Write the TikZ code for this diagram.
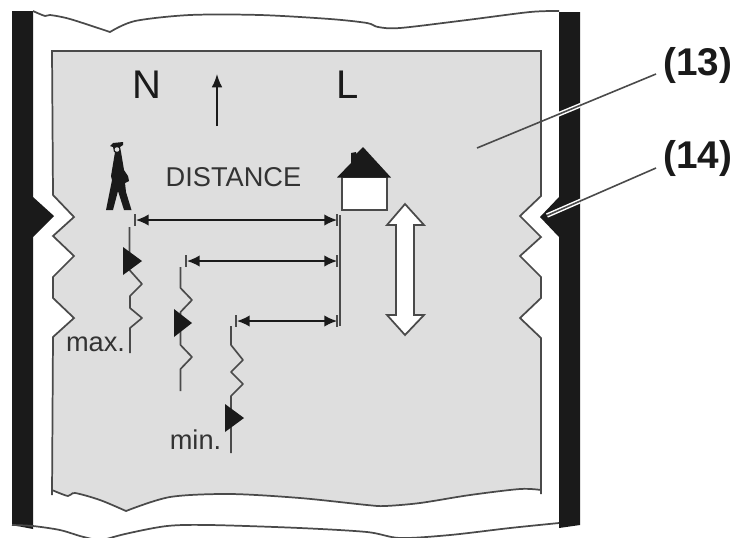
\documentclass[tikz,border=0pt]{standalone}
\usepackage{fontspec}
\setmainfont{Liberation Sans}
\usetikzlibrary{arrows.meta}
\definecolor{ink}{HTML}{1A1A1A}
\definecolor{edge}{HTML}{4A4A4A}
\definecolor{panel}{HTML}{DEDEDE}
\tikzset{
  x=0.75pt,y=-0.75pt,
  outline/.style={draw=edge,line width=1.3pt,line join=miter},
  dim/.style={draw=ink,line width=1.1pt,{Latex[length=9.5pt,width=8.5pt]}-{Latex[length=9.5pt,width=8.5pt]}},
  tick/.style={draw=edge,line width=1.1pt},
  wire/.style={draw=edge,line width=1.25pt,line join=round},
  label/.style={inner sep=0pt,text=ink,font=\fontsize{30pt}{32pt}\selectfont},
  small/.style={inner sep=0pt,text=black!80,font=\fontsize{20.4pt}{22pt}\selectfont},
  callout/.style={inner sep=0pt,text=ink,font=\bfseries\fontsize{29pt}{30pt}\selectfont},
  halo/.style={draw=white,line width=3.4pt},
  leader/.style={draw=edge,line width=1.2pt},
}
\begin{document}
\begin{tikzpicture}
\useasboundingbox (0,0) rectangle (734,537);
% side bars
\fill[ink] (12,11) -- (33,11) -- (33,197) -- (54,216) -- (33,237) -- (33,529) -- (12,525) -- cycle;
\fill[ink] (559,12) -- (580,12) -- (580,525) -- (559,528) -- (559,237) -- (540,217) -- (559,197) -- cycle;
% outer torn edges
\draw[outline] plot[smooth,tension=.5] coordinates {(33,11) (45,16) (50,15) (70,19) (110,32)}
  -- plot[smooth,tension=.5] coordinates {(110,32) (135,21) (190,15) (260,15) (330,19) (367,23) (378,27) (400,28) (467,20) (530,12) (559,11)};
\draw[outline] plot[smooth,tension=.5] coordinates {(12,525) (33,526) (60,530) (80,536) (100,541)}
  -- plot[smooth,tension=.5] coordinates {(100,541) (125,534) (167,526) (210,525) (300,528) (367,532) (400,538) (450,535) (510,528) (559,523)};
% panel
\draw[outline,fill=panel] (52,51) -- (541,51) -- (541,196) -- (520,216) -- (541,237) -- (520,256) -- (541,277) -- (541,298) -- (520,318) -- (541,338) -- (541,494) -- (541,490)
  -- plot[smooth,tension=.5] coordinates {(541,490) (520,489) (470,495) (420,503) (385,506) (367,505) (300,498) (230,494) (170,497) (126,511)}
  -- plot[smooth,tension=.5] coordinates {(126,511) (100,500) (75,493) (68,496) (52,490)}
  -- (52,495) -- (53,337) -- (74,318) -- (53,298) -- (53,277) -- (74,256) -- (53,236) -- (74,217) -- (53,195) -- cycle;
% text
\node[label] (n) at (147,84.5) {N};
\node[label] (l) at (347.5,84.5) {L};
\node[small] (dist) at (233.5,177) {DISTANCE};
\node[small,anchor=base] (mx) at (95.5,351) {max.};
\node[small,anchor=base] (mn) at (195.5,449) {min.};
% north arrow
\coordinate (a0) at (217,126);
\coordinate (a1) at (217,74);
\draw[draw=ink,line width=1.2pt,-{Latex[length=10pt,width=8pt]}] (a0) -- (a1);
% person
\fill[ink] (115,152) -- (121,152) -- (124,170) -- (128,176) -- (129,181) -- (125,183) -- (126,192) -- (131.5,210) -- (124,210) -- (118,191) -- (113,210) -- (106,210) -- (112,180) -- (111,176) -- cycle;
\fill[ink] (110,146) -- (113,143) -- (123,142) -- (123,145) -- (120,147) -- (121,152) -- (114,152) -- (113,147) -- cycle;
\fill[panel] (117,149.5) circle (2.3);
% house
\draw[outline,fill=white,line width=1.5pt] (341.5,177) rectangle (387,210);
\fill[ink] (337,177.5) -- (351,163) -- (351,153) -- (356,152) -- (356,154) -- (363,147) -- (391,177.5) -- cycle;
% double arrow
\draw[outline,fill=white] (405,204) -- (424,225) -- (414,225) -- (414,315) -- (424,315) -- (405,335) -- (387,315) -- (396,315) -- (396,225) -- (387,225) -- cycle;
% dimension lines
\coordinate (d1l) at (136,220); \coordinate (d1r) at (337,220);
\coordinate (d2l) at (187,261); \coordinate (d2r) at (337,261);
\coordinate (d3l) at (237,321); \coordinate (d3r) at (337,321);
\draw[dim] (d1l) -- (d1r);
\draw[dim] (d2l) -- (d2r);
\draw[dim] (d3l) -- (d3r);
\draw[tick] (135,214) -- (135,226);
\draw[tick] (186,255) -- (186,267);
\draw[tick] (236,315) -- (236,327);
\draw[tick] (337,214) -- (337,226);
\draw[tick] (337,255) -- (337,267);
\draw[tick] (337,315) -- (337,327);
\draw[tick] (340,215) -- (340,326);
% springs
\draw[wire] (129.5,227) -- (129.5,270) -- (142,284) -- (130,296) -- (130,308) -- (142,318) -- (130,328) -- (130,353);
\fill[ink] (123,247) -- (142,261) -- (123,275) -- cycle;
\draw[wire] (180.5,267) -- (180.5,288) -- (192,300) -- (180.5,312) -- (180.5,345) -- (192,357) -- (180.5,369) -- (180.5,391);
\fill[ink] (174,309) -- (192,323) -- (174,337) -- cycle;
\draw[wire] (231,326) -- (231,345) -- (243,360) -- (231,372) -- (243,384) -- (231,396) -- (231,453);
\fill[ink] (225,404) -- (244,418) -- (225,432) -- cycle;
% callouts
\node[callout,anchor=west] (c13) at (663,65) {(13)};
\node[callout,anchor=west] (c14) at (663,158) {(14)};
\coordinate (e13) at (477,148);
\coordinate (e14) at (547,215.5);
\coordinate (s13) at (656,74);
\coordinate (s14) at (656,168);
\begin{scope}
\clip (559,0) rectangle (580,537);
\draw[halo] (e13) -- (s13);
\end{scope}
\begin{scope}
\clip (535,190) rectangle (580,240);
\draw[halo] (e14) -- (s14);
\end{scope}
\draw[leader] (e13) -- (s13);
\draw[leader] (e14) -- (s14);
\end{tikzpicture}
\end{document}
